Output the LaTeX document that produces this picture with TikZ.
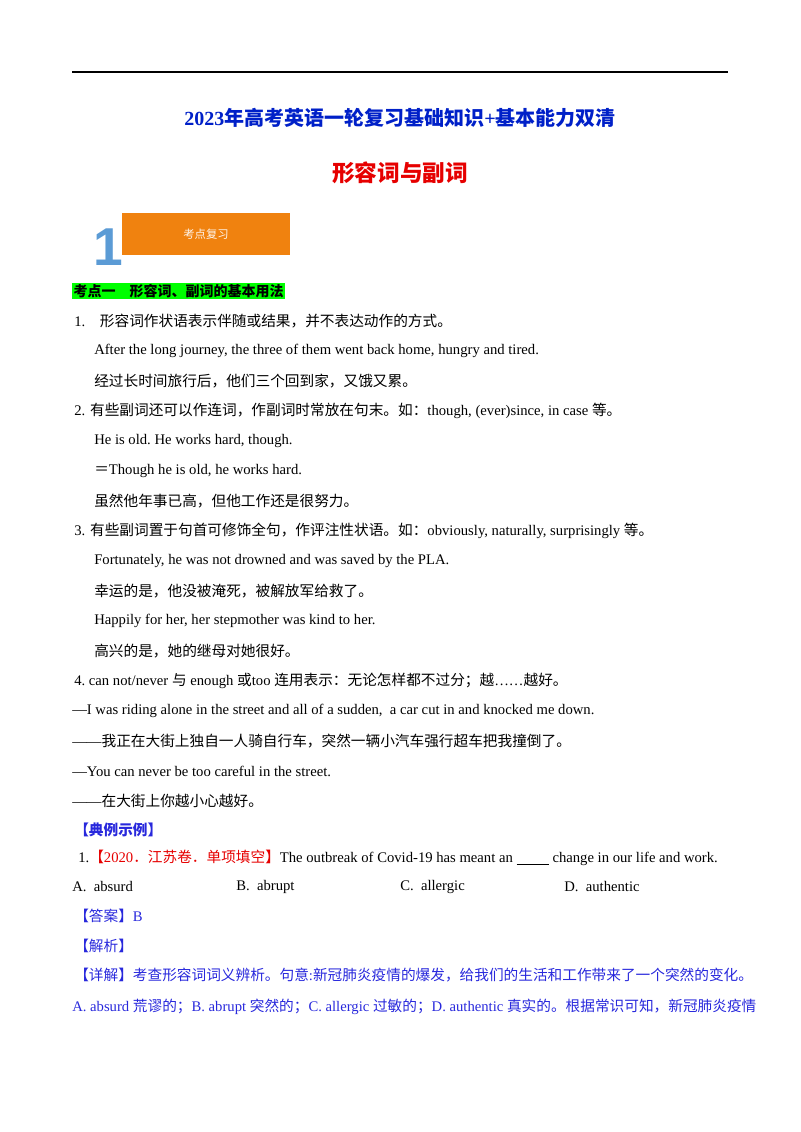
\documentclass[tikz,border=0pt]{standalone}
\usepackage{fontspec}
\setmainfont{Liberation Serif}
\newfontfamily\cjk{Noto Sans CJK SC}
\newfontfamily\sansf{Liberation Sans}
\definecolor{tblue}{RGB}{0,32,200}
\definecolor{tred}{RGB}{230,0,0}
\definecolor{orng}{RGB}{240,130,15}
\definecolor{oneblue}{RGB}{91,155,213}
\definecolor{hl}{RGB}{0,255,0}
\definecolor{ablue}{RGB}{40,40,220}
\begin{document}
\begin{tikzpicture}[x=0.75pt,y=-0.75pt,
  t/.style={anchor=west,inner sep=0pt,font=\fontsize{11}{13}\selectfont},
  c/.style={t,text=ablue}]
\useasboundingbox (0,0) rectangle (800,1132);
\draw[line width=1.5pt] (72,72) -- (728,72);
\node[inner sep=0pt,text=tblue,font=\fontsize{15}{18}\selectfont\bfseries] (title) at (400,118) {2023{\cjk 年高考英语一轮复习基础知识}+{\cjk 基本能力双清}};
\node[inner sep=0pt,text=tred,font=\cjk\fontsize{17}{20}\selectfont\bfseries] (sub) at (400,173) {形容词与副词};
\node[fill=orng,minimum width=126pt,minimum height=32pt,inner sep=0pt,text=white!92!orng,font=\cjk\fontsize{8.5}{10}\selectfont] (box) at (206,234) {考点复习};
\node[inner sep=0pt,text=oneblue,font=\sansf\bfseries\fontsize{40}{40}\selectfont] (one) at (108,247) {1};
\node[t,fill=hl,inner sep=1pt,font=\cjk\fontsize{10.5}{12}\selectfont\bfseries] (k1) at (72,291) {考点一\quad 形容词、副词的基本用法};
\node[t] (l1) at (74,321) {1.\quad{\cjk 形容词作状语表示伴随或结果，并不表达动作的方式。}};
\node[t] (l2) at (94,351) {After\ the\ long\ journey,\ the\ three\ of\ them\ went\ back\ home,\ hungry\ and\ tired.};
\node[t] (l3) at (94,381) {\cjk 经过长时间旅行后，他们三个回到家，又饿又累。};
\node[t] (l4) at (74,411) {2. {\cjk 有些副词还可以作连词，作副词时常放在句末。如：}though,\ (ever)since,\ in\ case {\cjk 等。}};
\node[t] (l5) at (94,441) {He\ is\ old.\ He\ works\ hard,\ though.};
\node[t] (l6) at (94,471) {{\cjk ＝}Though\ he\ is\ old,\ he\ works\ hard.};
\node[t] (l7) at (94,501) {\cjk 虽然他年事已高，但他工作还是很努力。};
\node[t] (l8) at (74,531) {3. {\cjk 有些副词置于句首可修饰全句，作评注性状语。如：}obviously,\ naturally,\ surprisingly {\cjk 等。}};
\node[t] (l9) at (94,561) {Fortunately,\ he\ was\ not\ drowned\ and\ was\ saved\ by\ the\ PLA.};
\node[t] (l10) at (94,591) {\cjk 幸运的是，他没被淹死，被解放军给救了。};
\node[t] (l11) at (94,621) {Happily\ for\ her,\ her\ stepmother\ was\ kind\ to\ her.};
\node[t] (l12) at (94,651) {\cjk 高兴的是，她的继母对她很好。};
\node[t] (l13) at (74,681) {4.\ can not/never {\cjk 与} enough\ {\cjk 或}too {\cjk 连用表示：无论怎样都不过分；越}……{\cjk 越好。}};
\node[t] (l14) at (72,711) {—I was riding alone in the street and all of a sudden,\ \ a car cut in and knocked me down.};
\node[t] (l15) at (72,741) {——{\cjk 我正在大街上独自一人骑自行车，突然一辆小汽车强行超车把我撞倒了。}};
\node[t] (l16) at (72,771) {—You can never be too careful in the street.};
\node[t] (l17) at (72,801) {——{\cjk 在大街上你越小心越好。}};
\node[c,font=\cjk\fontsize{11}{13}\selectfont\bfseries] (l18) at (74,830) {【典例示例】};
\node[t] (l19) at (78,858) {1.{\color{tred}{\cjk 【}2020{\cjk ．江苏卷．单项填空】}}The outbreak of Covid-19 has meant an \underline{\hspace{2.2em}} change in our life and work.};
\node[t] (oa) at (72,887) {A.\ \ absurd};
\node[t] (ob) at (236,887) {B.\ \ abrupt};
\node[t] (oc) at (400,887) {C.\ \ allergic};
\node[t] (od) at (564,887) {D.\ \ authentic};
\node[c] (ans) at (74,916) {{\cjk 【答案】}B};
\node[c] (jx) at (74,946) {\cjk 【解析】};
\node[c] (xj) at (74,975) {{\cjk 【详解】考查形容词词义辨析。句意}:{\cjk 新冠肺炎疫情的爆发，给我们的生活和工作带来了一个突然的变化。}};
\node[c] (last) at (72,1007) {A. absurd {\cjk 荒谬的；}B. abrupt {\cjk 突然的；}C. allergic {\cjk 过敏的；}D. authentic {\cjk 真实的。根据常识可知，新冠肺炎疫情}};
\end{tikzpicture}
\end{document}
